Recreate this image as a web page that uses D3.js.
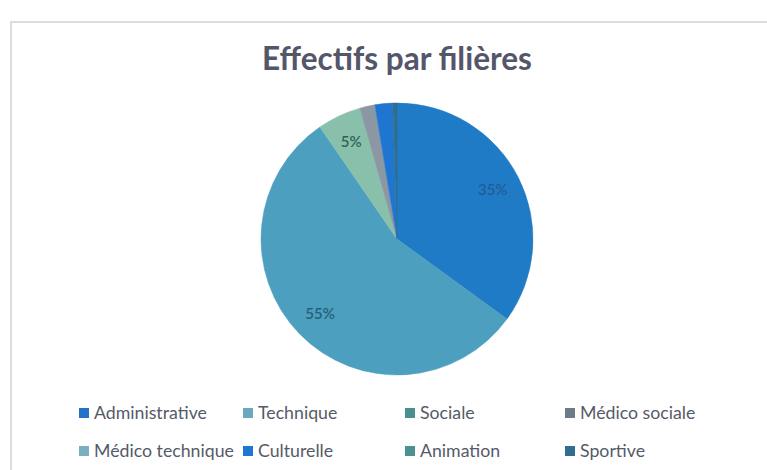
<!DOCTYPE html>
<html>
<head>
<meta charset="utf-8">
<script src="https://cdn.jsdelivr.net/npm/d3@7"></script>
<style>
  html, body { margin: 0; padding: 0; background: #ffffff; }
  svg { display: block; }
</style>
</head>
<body>
<svg id="chart" width="767" height="470"></svg>
<script>
const title = "Effectifs par filières";
const categories = ["Administrative", "Technique", "Sociale", "Médico sociale", "Médico technique", "Culturelle", "Animation", "Sportive"];
const values = [35, 55.4, 5.2, 1.8, 0, 2.1, 0, 0.5];
const colors = ["#1f7bc6", "#4c9fbf", "#88c0ab", "#8b97a2", "#79afc0", "#1f76d0", "#4a9191", "#2f6e8e"];
const legendColors = ["#2272c9", "#68a9bd", "#4a9090", "#6e7a86", "#79afc0", "#1f76d0", "#4a9191", "#2f6e8e"];
const labelColors = ["#235c96", "#275f7a", "#34615a", "#333", "#333", "#333", "#333", "#333"];

const svg = d3.select("#chart");
const W = 767, H = 470;

// frame
svg.append("rect")
  .attr("x", 11).attr("y", 22)
  .attr("width", W + 20).attr("height", H + 20)
  .attr("fill", "#ffffff")
  .attr("stroke", "#dcdcdc").attr("stroke-width", 2);

// title
const t = svg.append("text")
  .attr("x", 397).attr("y", 70)
  .attr("text-anchor", "middle")
  .attr("font-family", "Lato, 'Open Sans', sans-serif")
  .attr("font-weight", "bold")
  .attr("font-size", 30)
  .attr("fill", "#54566a")
  .text(title);
const tw = t.node().getComputedTextLength();
t.attr("font-size", 30 * 270 / tw);

// pie
const cx = 397, cy = 239, R = 136;
const total = d3.sum(values);
const data = categories.map((c, i) => ({ name: c, value: values[i], color: colors[i], lc: labelColors[i] }));
const pie = d3.pie().value(d => d.value).sort(null);
const arcs = pie(data);
const arc = d3.arc().innerRadius(0).outerRadius(R);
const labelArc = d3.arc().innerRadius(R * 0.79).outerRadius(R * 0.79);

const g = svg.append("g").attr("transform", `translate(${cx},${cy})`);
g.selectAll("path.slice")
  .data(arcs.filter(d => d.data.value > 0))
  .join("path")
  .attr("class", "slice")
  .attr("d", arc)
  .attr("fill", d => d.data.color)
  .attr("stroke", d => d.data.color)
  .attr("stroke-width", 0.5);

g.selectAll("text.lbl")
  .data(arcs.filter(d => d.data.value / total >= 0.045))
  .join("text")
  .attr("class", "lbl")
  .attr("transform", d => `translate(${labelArc.centroid(d)})`)
  .attr("text-anchor", "middle")
  .attr("dy", "0.35em")
  .attr("font-family", "Lato, 'Open Sans', sans-serif")
  .attr("font-size", 15)
  .attr("font-weight", 600)
  .attr("fill", d => d.data.lc)
  .text(d => Math.round(d.data.value / total * 100) + "%");

// legend
const colX = [79, 243, 405, 565];
const rowY = [413, 451];
const lg = svg.append("g");
const items = lg.selectAll("g.item")
  .data(data)
  .join("g")
  .attr("class", "item")
  .attr("transform", (d, i) => `translate(${colX[i % 4]},${rowY[Math.floor(i / 4)]})`);
items.append("rect")
  .attr("x", 0).attr("y", -5)
  .attr("width", 10).attr("height", 10)
  .attr("fill", (d, i) => legendColors[i]);
const lt = items.append("text")
  .attr("x", 15).attr("y", 0)
  .attr("dy", "0.35em")
  .attr("font-family", "Lato, 'Open Sans', sans-serif")
  .attr("font-size", 16)
  .attr("fill", "#555a68")
  .text(d => d.name);
const aw = lt.filter((d, i) => i === 0).node().getComputedTextLength();
lt.attr("font-size", 16 * 113 / aw);
</script>
</body>
</html>
